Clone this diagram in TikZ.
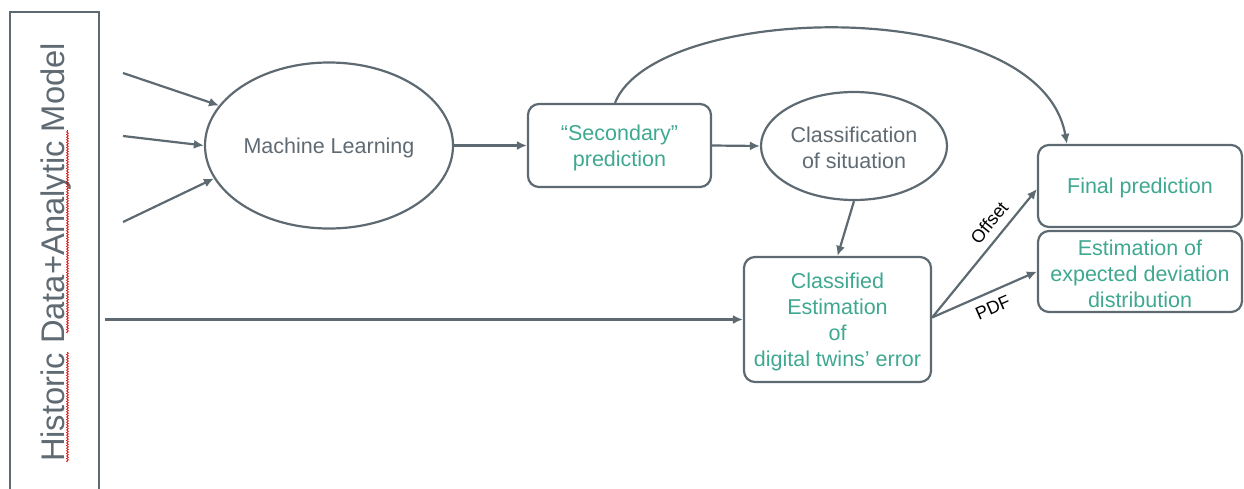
\documentclass[tikz,border=0pt]{standalone}
\usepackage{fontspec}
\setmainfont{Liberation Sans}
\usetikzlibrary{shapes.geometric,arrows.meta,decorations.pathmorphing}
\definecolor{linegray}{HTML}{5E6A71}
\definecolor{textgray}{HTML}{5F6A72}
\definecolor{accentgreen}{HTML}{3FA890}

\begin{document}
\begin{tikzpicture}[x=1pt,y=-1pt,
  flow/.style={draw=linegray, line width=2.2pt, -{Latex[length=10pt,width=9pt]}},
  oval/.style={ellipse, draw=linegray, line width=2.2pt, inner sep=0pt},
  card/.style={rectangle, rounded corners=11pt, draw=linegray, line width=2.2pt, inner sep=0pt},
  words/.style={inner sep=0pt, align=center, font=\fontsize{21.5}{26}\selectfont},
  ovaltext/.style={words, text=textgray},
  cardtext/.style={words, text=accentgreen},
  tag/.style={font=\fontsize{18}{20}\selectfont, text=black, sloped, inner sep=8pt},
  squiggle/.style={draw=red!85!black, line width=0.7pt, decorate,
    decoration={snake, amplitude=0.9pt, segment length=2.6pt}}]

\useasboundingbox (0,0) rectangle (1244,488);

% source column on the left
\node[draw=linegray, line width=2.2pt, rectangle, anchor=north west,
  minimum width=89pt, minimum height=490pt, inner sep=0pt] (hist) at (9,11) {};
\node[rotate=90, anchor=base, text=textgray, font=\fontsize{32.7}{36}\selectfont, inner sep=0pt]
  (histlabel) at (64,252.5) {Historic Data+Analytic Model};
\draw[squiggle] (67.5,462) -- (67.5,352);
\draw[squiggle] (67.5,333) -- (67.5,130);

% shapes
\node[oval, minimum width=248pt, minimum height=166pt] (ml) at (329,145.5) {};
\node[card, minimum width=183pt, minimum height=83pt] (sec) at (619.5,145.5) {};
\node[oval, minimum width=186pt, minimum height=108pt] (cls) at (854,146) {};
\node[card, minimum width=187pt, minimum height=125pt] (cfd) at (837.5,319.5) {};
\node[card, minimum width=204pt, minimum height=82pt] (fin) at (1140,186) {};
\node[card, minimum width=204pt, minimum height=81pt] (est) at (1140,271.5) {};

% their texts, set slightly below the geometric centre
\node[ovaltext] (mltext) at ([yshift=-2.3pt]ml.center) {Machine Learning};
\node[cardtext] (sectext) at ([yshift=-2.3pt]sec.center) {“Secondary”\\prediction};
\node[ovaltext] (clstext) at ([yshift=-2.3pt]cls.center) {Classification\\of situation};
\node[cardtext] (cfdtext) at ([yshift=-2.3pt]cfd.center) {Classified\\Estimation\\of\\digital twins’ error};
\node[cardtext] (fintext) at ([yshift=-2.3pt]fin.center) {Final prediction};
\node[cardtext] (esttext) at ([yshift=-2.3pt]est.center) {Estimation of\\expected deviation\\distribution};

% free inputs of the learner
\coordinate (in1) at (123,73);
\coordinate (in2) at (123,136);
\coordinate (in3) at (123,222);
\draw[flow] (in1) -- (ml.160);
\draw[flow] (in2) -- (ml.west);
\draw[flow] (in3) -- (ml.196);

% connectors
\draw[flow] (ml.east) -- (sec.west);
\draw[flow] (sec.east) -- (cls.west);
\draw[flow] (cls.south) -- (cfd.north);
\draw[flow] ([xshift=5pt]hist.east |- cfd.west) -- (cfd.west);
\draw[flow] ([xshift=-4.5pt]sec.north) .. controls (655,2) and (1040,-8) .. ([xshift=30pt]fin.north west);
\draw[flow] ([yshift=2pt]cfd.east) -- node[tag, pos=0.66, above] {Offset} ([yshift=-3pt]fin.west);
\draw[flow] ([yshift=2pt]cfd.east) -- node[tag, pos=0.52, below] {PDF} (est.west);
\end{tikzpicture}
\end{document}
